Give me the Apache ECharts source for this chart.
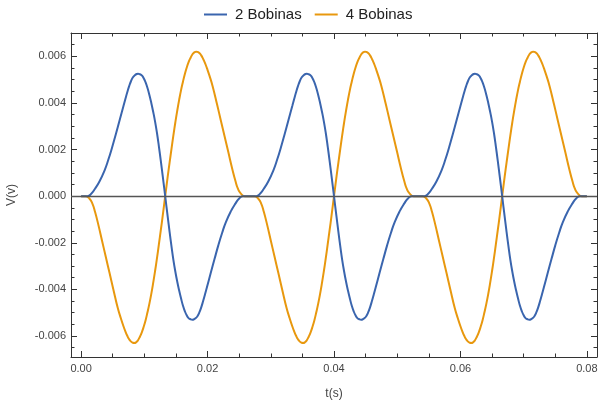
<!DOCTYPE html>
<html><head><meta charset="utf-8">
<script src="https://cdn.jsdelivr.net/npm/echarts@6/dist/echarts.min.js"></script>
<style>html,body{margin:0;padding:0;background:#fff}#c{width:602px;height:401px}</style>
</head><body><div id="c"></div><script>
// ---- data (time in ms, voltage in V) ----
const seriesNames = ['2 Bobinas', '4 Bobinas'];

const blueTms = [
0, 1.0, 1.6, 2.2, 2.9, 3.7, 4.3, 4.9, 5.5, 6.1, 6.7, 7.0, 7.3, 7.6, 7.9, 8.2, 8.5, 8.8, 9.0, 9.3, 9.6, 9.9, 10.2, 10.5, 10.8, 11.1, 11.4, 11.7, 12.0, 12.3, 12.6, 12.9, 13.3, 13.7, 14.0, 14.3, 14.6, 14.9, 15.2, 15.5, 15.8, 16.1, 16.4, 16.7, 17.0, 17.3, 17.6, 17.8, 18.1, 18.4, 18.7, 19.0, 19.3, 19.6, 19.9, 20.5, 21.1, 21.7, 22.3, 22.9, 23.7, 24.4, 25.0, 25.6,
26.7, 27.7, 28.3, 28.9, 29.6, 30.4, 31.0, 31.6, 32.2, 32.8, 33.4, 33.7, 34.0, 34.3, 34.6, 34.9, 35.2, 35.5, 35.7, 36.0, 36.3, 36.6, 36.9, 37.2, 37.5, 37.8, 38.1, 38.4, 38.7, 39.0, 39.3, 39.6, 40.0, 40.4, 40.7, 41.0, 41.3, 41.6, 41.9, 42.2, 42.5, 42.8, 43.1, 43.4, 43.7, 44.0, 44.3, 44.5, 44.8, 45.1, 45.4, 45.7, 46.0, 46.3, 46.6, 47.2, 47.8, 48.4, 49.0, 49.6, 50.4, 51.1, 51.7, 52.3,
53.3, 54.3, 54.9, 55.5, 56.2, 57.0, 57.6, 58.2, 58.8, 59.4, 60.0, 60.3, 60.6, 60.9, 61.2, 61.5, 61.8, 62.1, 62.3, 62.6, 62.9, 63.2, 63.5, 63.8, 64.1, 64.4, 64.7, 65.0, 65.3, 65.6, 65.9, 66.2, 66.6, 67.0, 67.3, 67.6, 67.9, 68.2, 68.5, 68.8, 69.1, 69.4, 69.7, 70.0, 70.3, 70.6, 70.9, 71.1, 71.4, 71.7, 72.0, 72.3, 72.6, 72.9, 73.2, 73.8, 74.4, 75.0, 75.6, 76.2, 77.0, 77.7, 78.3, 78.9, 80.0
];
const blueV = [
0, 0, 0.0001, 0.00032, 0.00063, 0.0011, 0.00156, 0.00209, 0.00267, 0.00327, 0.00387, 0.00417, 0.00446, 0.00472, 0.00494, 0.0051, 0.00519, 0.00524, 0.00525, 0.00523, 0.00518, 0.00506, 0.00488, 0.00464, 0.00434, 0.0040, 0.00362, 0.0032, 0.00271, 0.00214, 0.00152, 0.00088, 0, -0.00089, -0.00154, -0.00216, -0.00274, -0.00323, -0.00366, -0.00404, -0.00438, -0.00469, -0.00493, -0.00511, -0.00523, -0.00528, -0.0053, -0.00529, -0.00524, -0.00515, -0.00499, -0.00477, -0.0045, -0.00421, -0.00391, -0.0033, -0.0027, -0.00211, -0.00158, -0.00111, -0.00064, -0.00032, -0.0001, 0,
0, 0, 0.0001, 0.00032, 0.00063, 0.0011, 0.00156, 0.00209, 0.00267, 0.00327, 0.00387, 0.00417, 0.00446, 0.00472, 0.00494, 0.0051, 0.00519, 0.00524, 0.00525, 0.00523, 0.00518, 0.00506, 0.00488, 0.00464, 0.00434, 0.0040, 0.00362, 0.0032, 0.00271, 0.00214, 0.00152, 0.00088, 0, -0.00089, -0.00154, -0.00216, -0.00274, -0.00323, -0.00366, -0.00404, -0.00438, -0.00469, -0.00493, -0.00511, -0.00523, -0.00528, -0.0053, -0.00529, -0.00524, -0.00515, -0.00499, -0.00477, -0.0045, -0.00421, -0.00391, -0.0033, -0.0027, -0.00211, -0.00158, -0.00111, -0.00064, -0.00032, -0.0001, 0,
0, 0, 0.0001, 0.00032, 0.00063, 0.0011, 0.00156, 0.00209, 0.00267, 0.00327, 0.00387, 0.00417, 0.00446, 0.00472, 0.00494, 0.0051, 0.00519, 0.00524, 0.00525, 0.00523, 0.00518, 0.00506, 0.00488, 0.00464, 0.00434, 0.0040, 0.00362, 0.0032, 0.00271, 0.00214, 0.00152, 0.00088, 0, -0.00089, -0.00154, -0.00216, -0.00274, -0.00323, -0.00366, -0.00404, -0.00438, -0.00469, -0.00493, -0.00511, -0.00523, -0.00528, -0.0053, -0.00529, -0.00524, -0.00515, -0.00499, -0.00477, -0.0045, -0.00421, -0.00391, -0.0033, -0.0027, -0.00211, -0.00158, -0.00111, -0.00064, -0.00032, -0.0001, 0, 0
];

const orangeTms = [
0, 0.7, 1.3, 1.8, 2.2, 2.7, 3.3, 3.9, 4.5, 5.1, 5.8, 6.3, 6.7, 7.0, 7.3, 7.6, 7.9, 8.2, 8.4, 8.7, 9.0, 9.3, 9.6, 9.9, 10.2, 10.5, 10.8, 11.1, 11.4, 11.7, 12.0, 12.3, 12.6, 12.9, 13.3, 13.7, 14.0, 14.3, 14.6, 14.9, 15.2, 15.5, 15.8, 16.1, 16.4, 16.7, 17.0, 17.3, 17.6, 17.9, 18.2, 18.4, 18.7, 19.0, 19.3, 19.6, 19.9, 20.3, 20.8, 21.5, 22.1, 22.7, 23.3, 23.9, 24.4, 24.8, 25.3, 25.9,
26.7, 27.4, 28.0, 28.5, 28.9, 29.4, 30.0, 30.6, 31.2, 31.8, 32.5, 33.0, 33.4, 33.7, 34.0, 34.3, 34.6, 34.9, 35.1, 35.4, 35.7, 36.0, 36.3, 36.6, 36.9, 37.2, 37.5, 37.8, 38.1, 38.4, 38.7, 39.0, 39.3, 39.6, 40.0, 40.4, 40.7, 41.0, 41.3, 41.6, 41.9, 42.2, 42.5, 42.8, 43.1, 43.4, 43.7, 44.0, 44.3, 44.6, 44.9, 45.1, 45.4, 45.7, 46.0, 46.3, 46.6, 47.0, 47.5, 48.2, 48.8, 49.4, 50.0, 50.6, 51.1, 51.5, 52.0, 52.6,
53.3, 54.0, 54.6, 55.1, 55.5, 56.0, 56.6, 57.2, 57.8, 58.4, 59.1, 59.6, 60.0, 60.3, 60.6, 60.9, 61.2, 61.5, 61.7, 62.0, 62.3, 62.6, 62.9, 63.2, 63.5, 63.8, 64.1, 64.4, 64.7, 65.0, 65.3, 65.6, 65.9, 66.2, 66.6, 67.0, 67.3, 67.6, 67.9, 68.2, 68.5, 68.8, 69.1, 69.4, 69.7, 70.0, 70.3, 70.6, 70.9, 71.2, 71.5, 71.7, 72.0, 72.3, 72.6, 72.9, 73.2, 73.6, 74.1, 74.8, 75.4, 76.0, 76.6, 77.2, 77.7, 78.1, 78.6, 79.2, 80.0
];
const orangeV = [
0, 0, -0.0001, -0.00033, -0.00067, -0.0012, -0.0019, -0.0026, -0.0033, -0.0040, -0.0048, -0.00525, -0.00558, -0.0058, -0.00599, -0.00614, -0.00624, -0.00629, -0.0063, -0.00627, -0.00618, -0.00603, -0.00584, -0.0056, -0.00532, -0.00498, -0.00461, -0.00419, -0.00372, -0.00321, -0.00266, -0.00207, -0.00147, -0.00086, 0, 0.00085, 0.00145, 0.00204, 0.00262, 0.00316, 0.00366, 0.00412, 0.00454, 0.0049, 0.00523, 0.00551, 0.00575, 0.00593, 0.00608, 0.00617, 0.0062, 0.00619, 0.00614, 0.00604, 0.00589, 0.00571, 0.00549, 0.00517, 0.00472, 0.00394, 0.00325, 0.00256, 0.00187, 0.00118, 0.00066, 0.00032, 0.0001, 0,
0, 0, -0.0001, -0.00033, -0.00067, -0.0012, -0.0019, -0.0026, -0.0033, -0.0040, -0.0048, -0.00525, -0.00558, -0.0058, -0.00599, -0.00614, -0.00624, -0.00629, -0.0063, -0.00627, -0.00618, -0.00603, -0.00584, -0.0056, -0.00532, -0.00498, -0.00461, -0.00419, -0.00372, -0.00321, -0.00266, -0.00207, -0.00147, -0.00086, 0, 0.00085, 0.00145, 0.00204, 0.00262, 0.00316, 0.00366, 0.00412, 0.00454, 0.0049, 0.00523, 0.00551, 0.00575, 0.00593, 0.00608, 0.00617, 0.0062, 0.00619, 0.00614, 0.00604, 0.00589, 0.00571, 0.00549, 0.00517, 0.00472, 0.00394, 0.00325, 0.00256, 0.00187, 0.00118, 0.00066, 0.00032, 0.0001, 0,
0, 0, -0.0001, -0.00033, -0.00067, -0.0012, -0.0019, -0.0026, -0.0033, -0.0040, -0.0048, -0.00525, -0.00558, -0.0058, -0.00599, -0.00614, -0.00624, -0.00629, -0.0063, -0.00627, -0.00618, -0.00603, -0.00584, -0.0056, -0.00532, -0.00498, -0.00461, -0.00419, -0.00372, -0.00321, -0.00266, -0.00207, -0.00147, -0.00086, 0, 0.00085, 0.00145, 0.00204, 0.00262, 0.00316, 0.00366, 0.00412, 0.00454, 0.0049, 0.00523, 0.00551, 0.00575, 0.00593, 0.00608, 0.00617, 0.0062, 0.00619, 0.00614, 0.00604, 0.00589, 0.00571, 0.00549, 0.00517, 0.00472, 0.00394, 0.00325, 0.00256, 0.00187, 0.00118, 0.00066, 0.00032, 0.0001, 0, 0
];

const xMajorTicks = [0, 0.02, 0.04, 0.06, 0.08];
const xMinorTicks = [0, 0.005, 0.01, 0.015, 0.02, 0.025, 0.03, 0.035, 0.04, 0.045, 0.05, 0.055, 0.06, 0.065, 0.07, 0.075, 0.08];
const yMajorTicks = [-0.006, -0.004, -0.002, 0, 0.002, 0.004, 0.006];
const yMinorTicks = [-0.0065, -0.006, -0.0055, -0.005, -0.0045, -0.004, -0.0035, -0.003, -0.0025, -0.002, -0.0015, -0.001, -0.0005, 0, 0.0005, 0.001, 0.0015, 0.002, 0.0025, 0.003, 0.0035, 0.004, 0.0045, 0.005, 0.0055, 0.006, 0.0065];

// ---- chart ----
const FONT = '"Liberation Sans", Arial, Helvetica, sans-serif';
const FRAME = '#333';
const X_MIN = -0.0016, X_MAX = 0.0816, Y_MIN = -0.0069, Y_MAX = 0.0070;

function axis(kind, pos, ticks, len, showLine, labels) {
  const a = {
    type: 'value', position: pos,
    min: kind === 'x' ? X_MIN : Y_MIN, max: kind === 'x' ? X_MAX : Y_MAX,
    axisLine: { show: showLine, onZero: false, lineStyle: { color: FRAME, width: 1 } },
    axisTick: { show: true, inside: true, length: len, customValues: ticks, lineStyle: { color: FRAME, width: 1 } },
    axisLabel: { show: !!labels, customValues: ticks, color: '#444', fontSize: 11, fontFamily: FONT,
      margin: kind === 'x' ? 6 : 5,
      formatter: v => kind === 'x' ? v.toFixed(2) : v.toFixed(3) },
    splitLine: { show: false }, minorTick: { show: false }
  };
  if (labels) {
    a.name = kind === 'x' ? 't(s)' : 'V(v)';
    a.nameLocation = 'middle';
    a.nameGap = kind === 'x' ? 31 : 53;
    a.nameTextStyle = { color: '#444', fontSize: 12, fontFamily: FONT };
  }
  return a;
}

const msToS = ms => ms / 1000;

const chart = echarts.init(document.getElementById('c'), null, { renderer: 'canvas' });
chart.setOption({
  animation: false,
  backgroundColor: '#fff',
  legend: {
    data: seriesNames, top: 2, left: 199, itemGap: 13, itemWidth: 23, itemHeight: 2, icon: 'rect',
    textStyle: { color: '#222', fontSize: 15, fontFamily: FONT, padding: [0, 0, 0, 3] }
  },
  grid: { left: 71, right: 5, top: 33, bottom: 44, containLabel: false, outerBoundsMode: 'none' },
  xAxis: [
    axis('x', 'bottom', xMajorTicks, 6, true, true),
    axis('x', 'bottom', xMinorTicks, 3.5, false, false),
    axis('x', 'top', xMajorTicks, 6, true, false),
    axis('x', 'top', xMinorTicks, 3.5, false, false)
  ],
  yAxis: [
    axis('y', 'left', yMajorTicks, 6, true, true),
    axis('y', 'left', yMinorTicks, 3.5, false, false),
    axis('y', 'right', yMajorTicks, 6, true, false),
    axis('y', 'right', yMinorTicks, 3.5, false, false)
  ],
  series: [
    {
      name: seriesNames[0], type: 'line', xAxisIndex: 0, yAxisIndex: 0,
      data: blueTms.map((t, i) => [msToS(t), blueV[i]]),
      showSymbol: false, smooth: 0.5, color: '#3a65ae',
      lineStyle: { width: 2, color: '#3a65ae' },
      markLine: { silent: true, symbol: 'none', label: { show: false },
        lineStyle: { color: '#555', width: 1.3, type: 'solid' }, data: [{ yAxis: 0 }] },
      z: 3
    },
    {
      name: seriesNames[1], type: 'line', xAxisIndex: 0, yAxisIndex: 0,
      data: orangeTms.map((t, i) => [msToS(t), orangeV[i]]),
      showSymbol: false, smooth: 0.5, color: '#e8980e',
      lineStyle: { width: 2, color: '#e8980e' },
      z: 2
    }
  ]
});
</script></body></html>
